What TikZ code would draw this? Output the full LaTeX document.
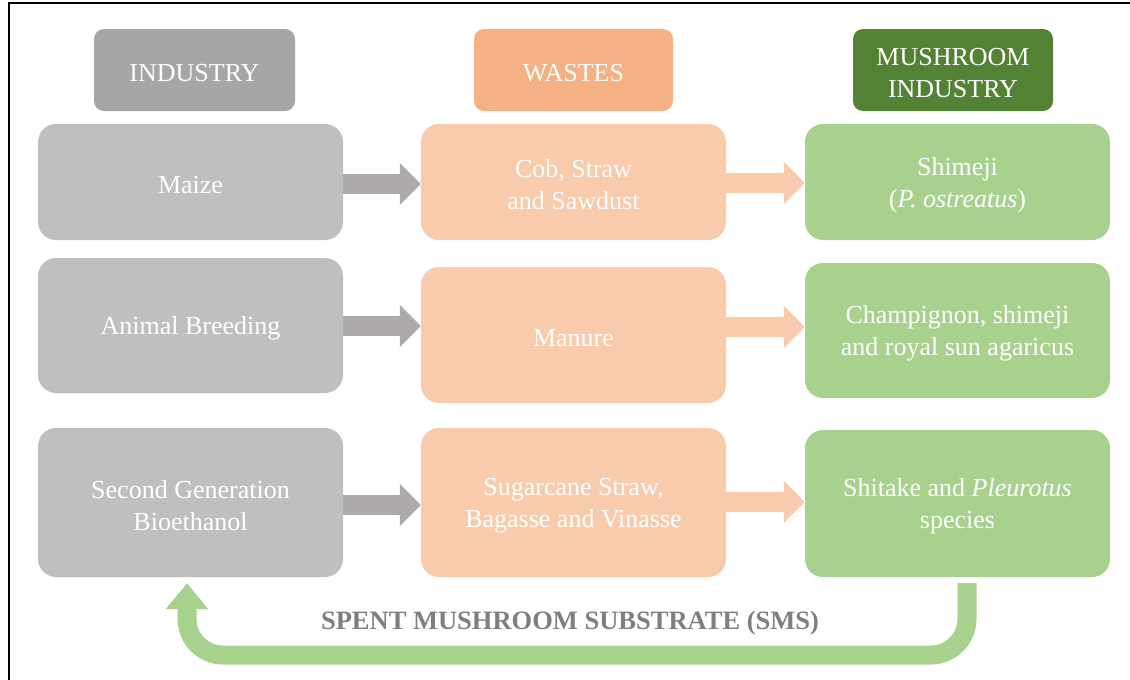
\documentclass[tikz,border=0pt]{standalone}
\usepackage{fontspec}
\setmainfont{Liberation Serif}
\usetikzlibrary{arrows.meta}
\definecolor{hdgray}{HTML}{A6A6A6}
\definecolor{hdorange}{HTML}{F4B183}
\definecolor{hdgreen}{HTML}{548235}
\definecolor{bxgray}{HTML}{BFBFBF}
\definecolor{bxorange}{HTML}{F8CBAD}
\definecolor{bxgreen}{HTML}{A9D18E}
\definecolor{argray}{HTML}{AEAAAA}
\definecolor{smstext}{HTML}{7F7F7F}
\newcommand\mytopstrut{\rule{0pt}{24pt}}
\begin{document}
\begin{tikzpicture}[x=1pt,y=-1pt,
  txt/.style={text=white, align=center, inner sep=0pt, font=\fontsize{26}{32}\selectfont,
    execute at begin node={\mytopstrut}},
  box/.style={txt, rounded corners=18pt, minimum width=305pt},
  hdr/.style={txt, rounded corners=10pt, minimum height=82pt},
  grayarrow/.style={line width=20pt, draw=argray, -{Triangle[length=21pt,width=41pt]}},
  orangearrow/.style={line width=20pt, draw=bxorange, -{Triangle[length=21pt,width=41pt]}},
  greenloop/.style={line width=19pt, draw=bxgreen, rounded corners=36pt, -{Triangle[length=26pt,width=41pt]}}
]
\useasboundingbox (0,0) rectangle (1130,680);
\fill[white] (0,0) rectangle (1130,680);
\draw[line width=2pt] (1130,3) -- (9,3) -- (9,680);

% headers
\node[hdr, fill=hdgray, minimum width=201pt] (ind) at (194.5,70) {INDUSTRY};
\node[hdr, fill=hdorange, minimum width=199pt] (was) at (573.5,70) {WASTES};
\node[hdr, fill=hdgreen, minimum width=200pt] (mus) at (953,70) {\mytopstrut MUSHROOM\\INDUSTRY};

% row 1
\node[box, fill=bxgray, minimum height=116pt] (g1) at (190.5,182) {Maize};
\node[box, fill=bxorange, minimum height=116pt] (o1) at (573.5,182) {\mytopstrut Cob, Straw\\and Sawdust};
\node[box, fill=bxgreen, minimum height=116pt] (r1) at (957.5,182) {\mytopstrut Shimeji\\(\textit{P. ostreatus})};

% row 2
\node[box, fill=bxgray, minimum height=135pt] (g2) at (190.5,325.5) {Animal Breeding};
\node[box, fill=bxorange, minimum height=136pt] (o2) at (573.5,335) {Manure};
\node[box, fill=bxgreen, minimum height=135pt] (r2) at (957.5,330.5) {\mytopstrut Champignon, shimeji\\and royal sun agaricus};

% row 3
\node[box, fill=bxgray, minimum height=149pt] (g3) at (190.5,502.5) {\mytopstrut Second Generation\\Bioethanol};
\node[box, fill=bxorange, minimum height=149pt] (o3) at (573.5,502.5) {\mytopstrut Sugarcane Straw,\\Bagasse and Vinasse};
\node[box, fill=bxgreen, minimum height=147pt] (r3) at (957.5,503.5) {\mytopstrut Shitake and \textit{Pleurotus}\\species};

% arrows
\draw[grayarrow] ([yshift=-2pt]g1.east) -- ([yshift=-2pt]o1.west);
\draw[orangearrow] ([yshift=-1pt]o1.east) -- ([yshift=-1pt]r1.west);
\draw[grayarrow] ([yshift=-0.5pt]g2.east) -- ([yshift=9pt]o2.west);
\draw[orangearrow] ([yshift=8pt]o2.east) -- ([yshift=3.5pt]r2.west);
\draw[grayarrow] ([yshift=-2.5pt]g3.east) -- ([yshift=-2.5pt]o3.west);
\draw[orangearrow] ([yshift=0.5pt]o3.east) -- ([yshift=1.5pt]r3.west);

% SMS loop
\coordinate (loopstart) at ([xshift=9.5pt,yshift=-6pt]r3.south);
\coordinate (loopend) at ([xshift=-3.5pt,yshift=-6pt]g3.south);
\draw[greenloop] (loopstart) -- (loopstart |- 0,655) -- (loopend |- 0,655) -- (loopend);
\node[font=\bfseries\fontsize{26.5}{30}\selectfont, text=smstext, inner sep=0pt] (sms) at (570,623) {SPENT MUSHROOM SUBSTRATE (SMS)};
\end{tikzpicture}
\end{document}
